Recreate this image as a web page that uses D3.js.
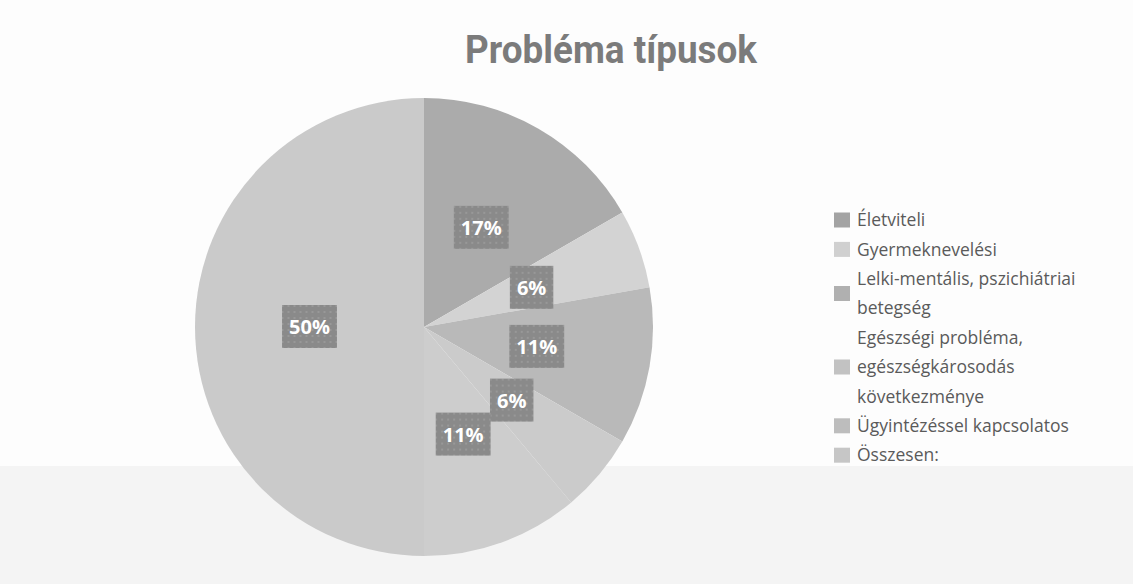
<!DOCTYPE html>
<html>
<head>
<meta charset="utf-8">
<script src="https://cdn.jsdelivr.net/npm/d3@7"></script>
<style>
  body { margin: 0; background: #fcfcfc; }
  svg { display: block; }
</style>
</head>
<body>
<svg id="chart" width="1133" height="584"></svg>
<script>
// chart data
var categories = [
  "Életviteli",
  "Gyermeknevelési",
  "Lelki-mentális, pszichiátriai betegség",
  "Egészségi probléma, egészségkárosodás következménye",
  "Ügyintézéssel kapcsolatos",
  "Összesen:"
];
var counts = [3, 1, 2, 1, 2, 9];
var percentLabels = ["17%", "6%", "11%", "6%", "11%", "50%"];
// legend text as it wraps in the original
var legendLines = [
  ["Életviteli"],
  ["Gyermeknevelési"],
  ["Lelki-mentális, pszichiátriai", "betegség"],
  ["Egészségi probléma,", "egészségkárosodás", "következménye"],
  ["Ügyintézéssel kapcsolatos"],
  ["Összesen:"]
];
var sliceColors = ["#ababab", "#d3d3d3", "#b9b9b9", "#cbcbcb", "#cdcdcd", "#cacaca"];
var legendColors = ["#a3a3a3", "#d0d0d0", "#b0b0b0", "#c2c2c2", "#bdbdbd", "#c6c6c6"];

var svg = d3.select("#chart");
var W = 1133, H = 584;
var cx = 424, cy = 327, R = 229;

// scanned-paper background, slightly greyer lower band
svg.append("rect").attr("width", W).attr("height", H).attr("fill", "#fdfdfd");
svg.append("rect").attr("x", 0).attr("y", 466).attr("width", W).attr("height", H - 466)
  .attr("fill", "#f4f4f4");

// dotted pattern for the percentage boxes
var defs = svg.append("defs");
var pat = defs.append("pattern").attr("id", "dots")
  .attr("width", 6).attr("height", 6).attr("patternUnits", "userSpaceOnUse");
pat.append("rect").attr("width", 6).attr("height", 6).attr("fill", "#8a8a8a");
pat.append("circle").attr("cx", 3).attr("cy", 3).attr("r", 1).attr("fill", "#9d9d9d");

// title
var title = svg.append("text")
  .attr("x", 611).attr("y", 63)
  .attr("text-anchor", "middle")
  .style("font-family", "'Liberation Sans Narrow', Roboto, sans-serif")
  .style("font-weight", "bold")
  .style("font-size", "38px")
  .attr("fill", "#7b7b7b")
  .text("Probléma típusok");
if (title.node().getComputedTextLength() > 296) {
  title.attr("textLength", 292).attr("lengthAdjust", "spacingAndGlyphs");
}

// pie
var color = d3.scaleOrdinal().domain(categories).range(sliceColors);
var pie = d3.pie().sort(null).value(function(d, i) { return counts[i]; });
var arc = d3.arc().innerRadius(0).outerRadius(R);
var arcs = pie(categories);

var g = svg.append("g").attr("transform", "translate(" + cx + "," + cy + ")");

g.selectAll("path.slice")
  .data(arcs)
  .enter().append("path")
  .attr("class", "slice")
  .attr("d", arc)
  .attr("fill", function(d) { return color(d.data); });

// percentage labels on dotted boxes
var lab = g.selectAll("g.lab")
  .data(arcs)
  .enter().append("g")
  .attr("class", "lab")
  .attr("transform", function(d) {
    var c = arc.centroid(d);
    return "translate(" + c[0] + "," + c[1] + ")";
  });

lab.each(function(d, i) {
  var el = d3.select(this);
  var box = el.append("rect").attr("fill", "url(#dots)");
  var t = el.append("text")
    .attr("text-anchor", "middle")
    .attr("dy", "0.36em")
    .style("font-family", "'Open Sans', sans-serif")
    .style("font-weight", "bold")
    .style("font-size", "20px")
    .attr("fill", "#ffffff")
    .text(percentLabels[i]);
  var w = t.node().getComputedTextLength() + 14;
  box.attr("x", -w / 2).attr("y", -22).attr("width", w).attr("height", 43);
});

// legend
var legend = svg.append("g").attr("transform", "translate(834,0)");
var lineH = 29.4;
var y0 = 220;
var lineIdx = 0;
legendLines.forEach(function(lines, i) {
  var first = lineIdx;
  var item = legend.append("g");
  lines.forEach(function(s, k) {
    item.append("text")
      .attr("x", 23)
      .attr("y", y0 + (first + k) * lineH)
      .attr("dy", "0.35em")
      .style("font-family", "'Open Sans', sans-serif")
      .style("font-size", "17.5px")
      .attr("fill", "#5a5a5a")
      .text(s);
  });
  var mid = y0 + (first + (lines.length - 1) / 2) * lineH;
  item.append("rect")
    .attr("x", 0).attr("y", mid - 7.5)
    .attr("width", 16).attr("height", 15)
    .attr("fill", legendColors[i]);
  lineIdx += lines.length;
});
</script>
</body>
</html>
